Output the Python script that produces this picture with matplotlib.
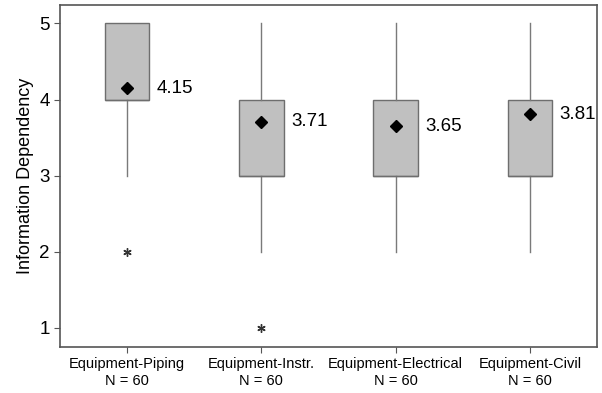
import matplotlib
matplotlib.use('Agg')
import matplotlib.pyplot as plt

plt.rcParams['font.family'] = ['Liberation Sans', 'DejaVu Sans']

categories = ['Equipment-Piping', 'Equipment-Instr.', 'Equipment-Electrical', 'Equipment-Civil']
n_counts = [60, 60, 60, 60]
q1 = [4, 3, 3, 3]
q3 = [5, 4, 4, 4]
medians = [4, 3, 3, 3]
whisker_lo = [3, 2, 2, 2]
whisker_hi = [5, 5, 5, 5]
outliers = [[2], [1], [], []]
means = [4.15, 3.71, 3.65, 3.81]

stats = []
for i in range(len(categories)):
    stats.append({'q1': q1[i], 'q3': q3[i], 'med': medians[i],
                  'whislo': whisker_lo[i], 'whishi': whisker_hi[i],
                  'fliers': outliers[i], 'mean': means[i]})

fig = plt.figure(figsize=(6.02, 3.93), dpi=100)
ax = fig.add_axes([0.0997, 0.117, 0.892, 0.870])

pos = list(range(1, len(categories) + 1))
ax.bxp(stats, positions=pos, widths=0.33, patch_artist=True, showcaps=False,
       showmeans=True,
       boxprops=dict(facecolor='#c0c0c0', edgecolor='#6e6e6e', linewidth=1.0),
       whiskerprops=dict(color='#7a7a7a', linewidth=1.0),
       medianprops=dict(color='#6e6e6e', linewidth=1.0),
       meanprops=dict(marker='D', markerfacecolor='black', markeredgecolor='black', markersize=6),
       flierprops=dict(marker=(6, 2, 0), markerfacecolor='#333333', markeredgecolor='#333333',
                       markersize=6, markeredgewidth=1.0))

for p, m in zip(pos, means):
    ax.text(p + 0.22, m, '%.2f' % m, fontsize=13.5, va='center', ha='left')

ax.set_xlim(0.5, 4.5)
ax.set_ylim(0.75, 5.24)
ax.set_yticks([1, 2, 3, 4, 5])
ax.set_xticks(pos)
ax.set_xticklabels(['%s\nN = %d' % (c, n) for c, n in zip(categories, n_counts)], fontsize=10.5)
ax.tick_params(axis='y', labelsize=13.5, length=4, color='#555555')
ax.tick_params(axis='x', length=4, color='#555555')
ax.set_ylabel('Information Dependency', fontsize=13)
for s in ax.spines.values():
    s.set_color('#555555')
    s.set_linewidth(1.2)

fig.savefig('out.png', dpi=100)
